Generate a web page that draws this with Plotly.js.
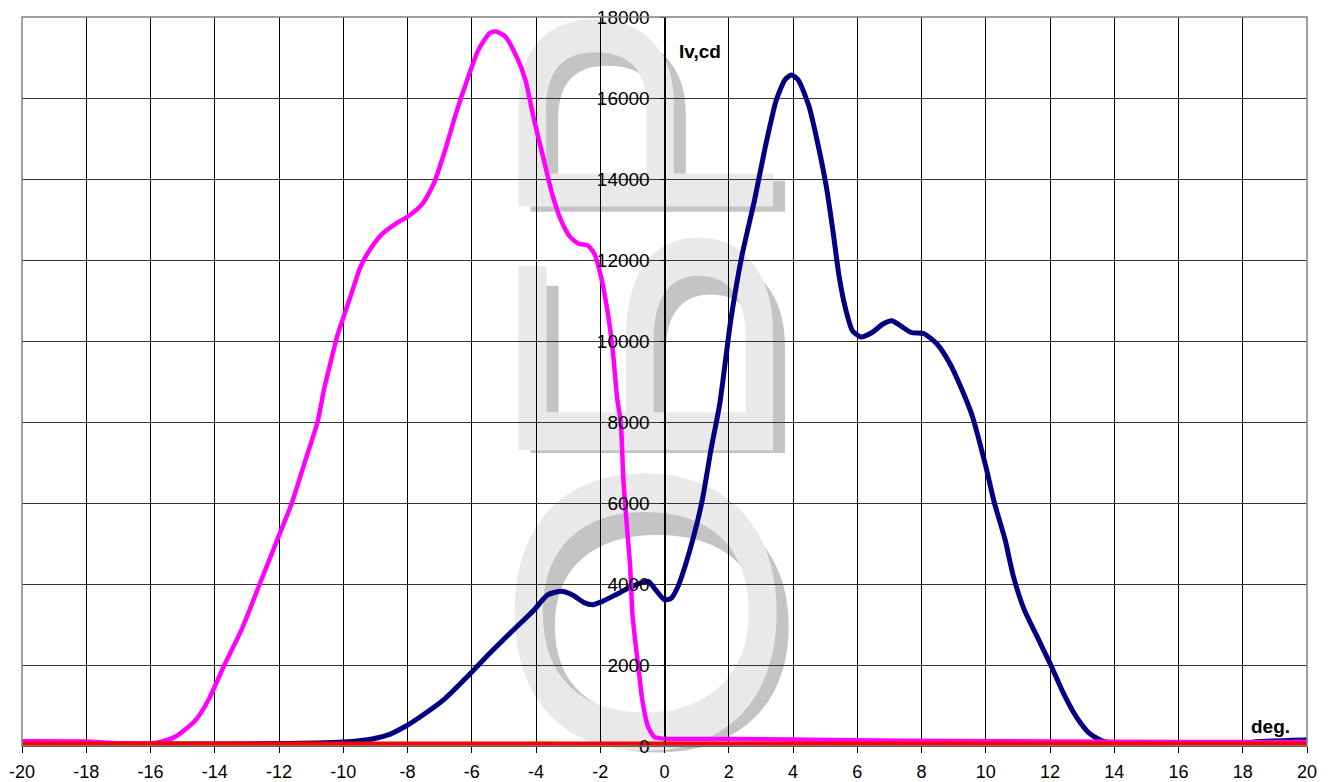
<!DOCTYPE html>
<html>
<head>
<meta charset="utf-8">
<script src="https://cdn.plot.ly/plotly-3.0.1.min.js"></script>
<style>
  html, body { margin: 0; padding: 0; background: #ffffff; }
  #wrap { position: relative; width: 1332px; height: 782px; overflow: hidden; }
  #wm { position: absolute; left: 0; top: 0; z-index: 0; }
  #chart { position: absolute; left: 0; top: 0; width: 1332px; height: 782px; z-index: 1; }
</style>
</head>
<body>
<div id="wrap">
  <svg id="wm" width="1332" height="782" xmlns="http://www.w3.org/2000/svg">
    <g font-family="Liberation Sans, Arial, sans-serif" font-size="370" text-anchor="middle">
      <g fill="#c4c4c4">
        <text transform="translate(785,626) rotate(-90) scale(1.0,1)">О</text>
        <text transform="translate(785,362) rotate(-90) scale(1.0,1)">Б</text>
        <text transform="translate(785,128) rotate(-90) scale(0.9,1)">Р</text>
      </g>
      <g fill="#e9e9e9">
        <text transform="translate(773,612) rotate(-90) scale(1.1,1)">О</text>
        <text transform="translate(773,350) rotate(-90) scale(1.1,1)">Б</text>
        <text transform="translate(773,118) rotate(-90) scale(0.95,1)">Р</text>
      </g>
    </g>
  </svg>
  <div id="chart"></div>
</div>
<script>
// Magenta series
const magentaX = [-20, -18.1, -17, -16, -15.7, -15.2, -14.6, -14.2, -13.7, -13.15, -12.6, -12.1, -11.6, -11.2, -10.8, -10.6, -10.37, -10.17, -10.03, -9.75, -9.47, -9.19, -8.78, -8.36, -7.94, -7.53, -7.18, -6.83, -6.49, -6.14, -5.79, -5.44, -5.24, -4.96, -4.61, -4.33, -4.06, -3.78, -3.5, -3.22, -2.94, -2.67, -2.39, -2.18, -1.97, -1.76, -1.61, -1.47, -1.36, -1.28, -1.17, -1.07, -1.0, -0.89, -0.79, -0.69, -0.51, -0.31, 0, 2, 4, 6, 8.8, 12, 16, 20];
const magentaY = [115, 110, 70, 60, 100, 240, 636, 1130, 2000, 2900, 4000, 5000, 6000, 7000, 8000, 8800, 9550, 10170, 10500, 11160, 11820, 12230, 12650, 12900, 13100, 13390, 13890, 14710, 15620, 16450, 17190, 17600, 17640, 17520, 17030, 16450, 15460, 14550, 13640, 12980, 12570, 12400, 12360, 12150, 11570, 10670, 9760, 8560, 7990, 6580, 5430, 4440, 3280, 2450, 1790, 1130, 470, 220, 180, 170, 160, 140, 125, 110, 100, 100];

// Navy series
const navyX = [-20, -16, -12, -10, -9.5, -9.06, -8.65, -8.1, -7.53, -6.83, -6.14, -5.44, -4.75, -4.06, -3.64, -3.22, -2.86, -2.5, -2.22, -1.94, -1.53, -1.11, -0.69, -0.49, -0.28, 0, 0.21, 0.42, 0.64, 0.91, 1.18, 1.45, 1.72, 2.06, 2.4, 2.8, 3.14, 3.48, 3.75, 3.95, 4.16, 4.5, 4.77, 5.04, 5.24, 5.44, 5.65, 5.85, 6.12, 6.46, 6.8, 7.07, 7.34, 7.68, 8.08, 8.49, 8.9, 9.23, 9.58, 10.0, 10.27, 10.6, 10.86, 11.2, 11.6, 12.0, 12.42, 12.82, 13.23, 13.64, 14, 16, 18, 18.5, 19.5, 20];
const navyY = [50, 50, 60, 100, 130, 180, 260, 470, 760, 1170, 1710, 2290, 2830, 3360, 3730, 3820, 3730, 3540, 3490, 3570, 3730, 3900, 4040, 4060, 3860, 3610, 3650, 3940, 4440, 5180, 6090, 7330, 8450, 10500, 12070, 13470, 14800, 15950, 16450, 16570, 16450, 15790, 14880, 13800, 12740, 11570, 10750, 10250, 10100, 10210, 10420, 10500, 10380, 10210, 10180, 9920, 9420, 8850, 8150, 6910, 6000, 5100, 4190, 3360, 2700, 2040, 1300, 720, 310, 120, 70, 60, 60, 110, 140, 150];

// Blue series (near zero)
const blueX = [-20, -18.4, -17.2, -12, -6, -4.5, 0, 6, 12, 18.4, 20];
const blueY = [40, 60, 55, 45, 30, 30, 45, 50, 45, 65, 65];

// Green series (near zero)
const greenX = [-20, -10, -4.4, -4.2, -3.4, -3.2, 0, 10, 20];
const greenY = [30, 35, 35, 65, 65, 35, 35, 35, 35];

// Red series (near zero)
const redX = [-20, -15, -10, -5, 0, 5, 10, 15, 20];
const redY = [40, 42, 45, 43, 40, 42, 45, 42, 40];

const xTicks = [-20, -18, -16, -14, -12, -10, -8, -6, -4, -2, 0, 2, 4, 6, 8, 10, 12, 14, 16, 18, 20];
const yTicks = [0, 2000, 4000, 6000, 8000, 10000, 12000, 14000, 16000, 18000];

const traces = [
  {x: blueX, y: blueY, mode: 'lines', line: {color: '#0000ff', width: 3}, hoverinfo: 'skip'},
  {x: greenX, y: greenY, mode: 'lines', line: {color: '#00cc00', width: 3}, hoverinfo: 'skip'},
  {x: navyX, y: navyY, mode: 'lines', line: {color: '#000080', width: 5, shape: 'spline', smoothing: 0.6}, hoverinfo: 'skip'},
  {x: magentaX, y: magentaY, mode: 'lines', line: {color: '#ff00ff', width: 4.5, shape: 'spline', smoothing: 0.6}, hoverinfo: 'skip'},
  {x: redX, y: redY, mode: 'lines', line: {color: '#ff0000', width: 6}, hoverinfo: 'skip'}
];

const font = 'Liberation Sans, Arial, sans-serif';

const layout = {
  width: 1332, height: 782,
  margin: {l: 22, r: 25, t: 17, b: 36, pad: 0},
  paper_bgcolor: 'rgba(0,0,0,0)',
  plot_bgcolor: 'rgba(0,0,0,0)',
  showlegend: false,
  font: {family: font, size: 19, color: '#000'},
  xaxis: {
    range: [-20, 20], tickvals: xTicks, ticktext: xTicks.map(String),
    showgrid: true, gridcolor: '#000', gridwidth: 1, zeroline: false,
    showline: true, linecolor: '#000', linewidth: 1,
    ticks: 'outside', ticklen: 6, tickcolor: '#000', ticklabelstandoff: 3,
    tickfont: {family: font, size: 18, color: '#000'}
  },
  yaxis: {
    range: [0, 18000], tickvals: yTicks, ticktext: yTicks.map(String),
    showgrid: true, gridcolor: '#333', gridwidth: 1, zeroline: false,
    anchor: 'free', position: 0.5,
    showline: true, linecolor: '#000', linewidth: 1,
    ticks: 'outside', ticklen: 5, tickcolor: '#000', ticklabelstandoff: 6,
    tickfont: {family: font, size: 19, color: '#000'}
  },
  shapes: [
    {type: 'rect', xref: 'paper', yref: 'paper', x0: 0, x1: 1, y0: 0, y1: 1,
     line: {color: '#808080', width: 1.5}, fillcolor: 'rgba(0,0,0,0)', layer: 'above'}
  ],
  annotations: [
    {x: 1.1, y: 17136, xref: 'x', yref: 'y', text: '<b>Iv,cd</b>', showarrow: false,
     xanchor: 'center', yanchor: 'middle', font: {family: font, size: 19, color: '#000'}},
    {x: 18.85, y: 470, xref: 'x', yref: 'y', text: '<b>deg.</b>', showarrow: false,
     xanchor: 'center', yanchor: 'middle', font: {family: font, size: 19, color: '#000'}}
  ]
};

Plotly.newPlot('chart', traces, layout, {staticPlot: true, displayModeBar: false});
</script>
</body>
</html>
